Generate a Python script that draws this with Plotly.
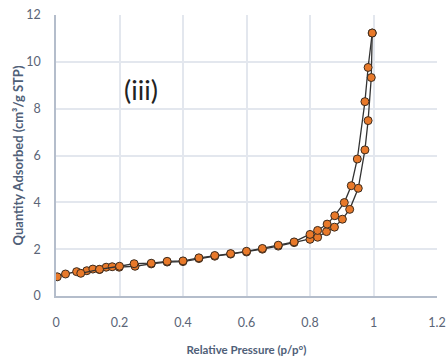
import plotly.graph_objects as go

# Adsorption branch
ads_x = [0.004, 0.03, 0.065, 0.097, 0.116, 0.137, 0.158, 0.177, 0.199, 0.249,
         0.30, 0.35, 0.40, 0.45, 0.50, 0.55, 0.60, 0.65, 0.70, 0.75,
         0.80, 0.824, 0.852, 0.877, 0.902, 0.925, 0.952, 0.973, 0.983, 0.993, 0.996]
ads_y = [0.82, 0.94, 1.04, 1.08, 1.15, 1.13, 1.23, 1.25, 1.23, 1.27,
         1.37, 1.45, 1.47, 1.60, 1.70, 1.79, 1.88, 2.00, 2.13, 2.28,
         2.42, 2.51, 2.75, 2.94, 3.28, 3.70, 4.60, 6.24, 7.49, 9.33, 11.23]

# Desorption branch
des_x = [0.996, 0.983, 0.973, 0.949, 0.93, 0.908, 0.878, 0.854, 0.824, 0.80,
         0.75, 0.70, 0.65, 0.60, 0.55, 0.50, 0.45, 0.40, 0.35, 0.30,
         0.246, 0.20, 0.137, 0.078]
des_y = [11.23, 9.76, 8.30, 5.85, 4.71, 3.99, 3.43, 3.07, 2.80, 2.63,
         2.31, 2.17, 2.03, 1.91, 1.81, 1.73, 1.63, 1.50, 1.48, 1.40,
         1.38, 1.27, 1.14, 0.97]

panel_label = "(iii)"
x_title = "Relative Pressure (p/p°)"
y_title = "Quantity Adsorbed (cm³/g STP)"

marker = dict(size=8, color="#E8792A", line=dict(color="#3b2b1e", width=1))
line = dict(color="#333333", width=1.3)

fig = go.Figure()
fig.add_trace(go.Scatter(x=ads_x, y=ads_y, mode="lines+markers", marker=marker, line=line, showlegend=False))
fig.add_trace(go.Scatter(x=des_x, y=des_y, mode="lines+markers", marker=marker, line=line, showlegend=False))

fig.add_annotation(x=0.268, y=8.8, xref="x", yref="y", text=panel_label, showarrow=False,
                   font=dict(family="Lato, sans-serif", size=27, color="#222222"))

axis_font = dict(family="Lato, sans-serif", size=12.5, color="#5b6577")
xtitle_font = dict(family="Lato, sans-serif", size=11.5, color="#4f6078")
ytitle_font = dict(family="Lato, sans-serif", size=13, color="#4f6078")

fig.update_layout(
    width=447, height=363,
    margin=dict(l=56, r=10, t=15, b=67),
    plot_bgcolor="white", paper_bgcolor="white",
    xaxis=dict(range=[0, 1.2], dtick=0.2, tick0=0, showgrid=True, gridcolor="#e3e7ee", gridwidth=1.5,
               zeroline=False, showline=True, linecolor="#b4bdcb", linewidth=1.5, mirror=False,
               tickfont=axis_font, ticklabelstandoff=14, automargin=False, ticklabeloverflow="allow",
               title=dict(text="<b>" + x_title + "</b>", font=xtitle_font, standoff=17)),
    yaxis=dict(range=[0, 12], dtick=2, tick0=0, showgrid=True, gridcolor="#e3e7ee", gridwidth=1.5,
               zeroline=False, showline=True, linecolor="#b4bdcb", linewidth=1.5,
               tickfont=axis_font, ticklabelstandoff=11, automargin=False, ticklabeloverflow="allow",
               title=dict(text="<b>" + y_title + "</b>", font=ytitle_font, standoff=0)),
)

fig.write_html(
    "out.html",
    config={"displayModeBar": False},
    post_script="document.body.style.margin='0';document.documentElement.style.overflow='hidden';",
)
